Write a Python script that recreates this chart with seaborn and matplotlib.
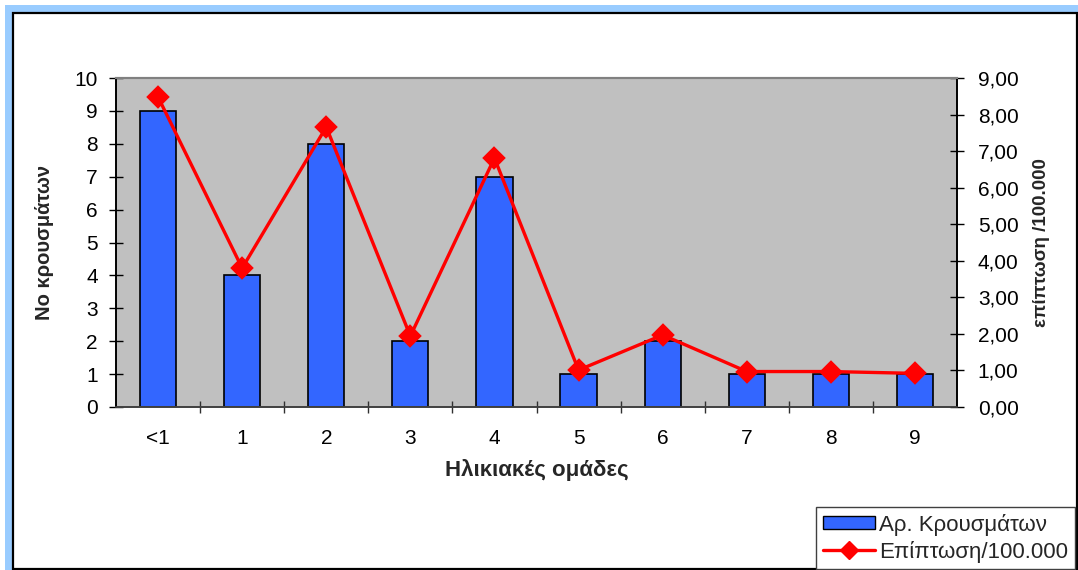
import numpy as np
import matplotlib
matplotlib.use("Agg")
import matplotlib.pyplot as plt
from matplotlib.patches import Rectangle, Patch
from matplotlib.lines import Line2D
from matplotlib.ticker import FixedLocator, FuncFormatter
import seaborn as sns

# Age groups, number of cases and incidence per 100,000
age_groups = ["<1", "1", "2", "3", "4", "5", "6", "7", "8", "9"]
cases = [9, 4, 8, 2, 7, 1, 2, 1, 1, 1]
incidence = [8.48, 3.80, 7.66, 1.94, 6.81, 1.01, 1.97, 0.97, 0.97, 0.92]

sns.set_theme(style="white")
plt.rcParams["font.family"] = ["Liberation Sans", "DejaVu Sans"]

W, H = 1078, 570
fig = plt.figure(figsize=(W / 100, H / 100), dpi=100, facecolor="white")


def fx(px):
    return px / W


def fy(py):
    return 1 - py / H


# light blue outer band and white framed panel behind the chart
fig.add_artist(Rectangle((fx(5), 0), 1 - fx(5), fy(5), transform=fig.transFigure,
                         facecolor="#99CCFF", edgecolor="none", zorder=-3))
fig.add_artist(Rectangle((fx(13), fy(569)), fx(1077) - fx(13), fy(13) - fy(569),
                         transform=fig.transFigure, facecolor="white",
                         edgecolor="black", linewidth=1.6, zorder=-2))

ax = fig.add_axes([fx(116), fy(407), fx(957) - fx(116), (407 - 78) / H])
ax.set_facecolor("#C0C0C0")

sns.barplot(x=age_groups, y=cases, ax=ax, color="#3366FF", saturation=1,
            width=0.43, edgecolor="black", linewidth=1.2)
ax.set_xlim(-0.5, 9.5)
ax.set_ylim(0, 10)
ax.set_yticks(range(0, 11))

ax2 = ax.twinx()
sns.pointplot(x=age_groups, y=incidence, ax=ax2, color="#FF0000", markers="D",
              markersize=10, linewidth=2.4, errorbar=None)
ax2.set_xlim(-0.5, 9.5)
ax2.set_ylim(0, 9)
ax2.set_yticks(range(0, 10))
ax2.yaxis.set_major_formatter(FuncFormatter(lambda v, _: f"{v:.2f}".replace(".", ",")))

# x ticks: labels centred on categories, tick marks between them
ax.set_xticks(range(len(age_groups)))
ax.set_xticklabels(age_groups)
ax.xaxis.set_minor_locator(FixedLocator(np.arange(0.5, 9.5, 1)))
ax.tick_params(axis="x", which="major", length=0, pad=16, labelsize=15, colors="black")
ax.tick_params(axis="x", which="minor", bottom=True, direction="inout", length=9,
               width=1, color="#303030")
ax.tick_params(axis="y", left=True, direction="inout", length=10, width=1,
               pad=8, labelsize=15, colors="black")
ax2.tick_params(axis="y", right=True, direction="inout", length=10, width=1,
                pad=10, labelsize=15, colors="black")

for a in (ax, ax2):
    a.spines["top"].set_color("#808080")
    a.spines["top"].set_linewidth(1.5)
    a.spines["bottom"].set_color("#404040")
    a.spines["bottom"].set_linewidth(1.2)
    a.spines["left"].set_color("black")
    a.spines["left"].set_linewidth(1.2)
    a.spines["right"].set_color("black")
    a.spines["right"].set_linewidth(1.2)
ax2.patch.set_visible(False)

ax.set_xlabel("Ηλικιακές ομάδες", fontsize=16, fontweight="bold")
ax.xaxis.set_label_coords(0.5, -0.19)
ax.xaxis.label.set_va("center")
ax.set_ylabel("Νο κρουσμάτων", fontsize=14.5, fontweight="bold")
ax.yaxis.set_label_coords((45 - 116) / 841, 0.5)
ax.yaxis.label.set_va("center")
ax2.set_ylabel("επίπτωση /100.000", fontsize=13.5, fontweight="bold", rotation=90)
ax2.yaxis.set_label_coords((1041 - 116) / 841, 0.5)
ax2.yaxis.label.set_va("center")
ax2.set_xlabel("")

handles = [
    Patch(facecolor="#3366FF", edgecolor="black", linewidth=1.0),
    Line2D([0], [0], color="#FF0000", marker="D", lw=2.4, ms=9),
]
leg = fig.legend(handles, ["Αρ. Κρουσμάτων", "Επίπτωση/100.000"],
                 loc="upper left", bbox_to_anchor=(fx(816), fy(507)),
                 frameon=True, fancybox=False, edgecolor="#404040", framealpha=1,
                 fontsize=16, handlelength=2.35, handleheight=0.5, handletextpad=0.2,
                 borderaxespad=0, borderpad=0.3, labelspacing=0.22)
leg.get_frame().set_linewidth(1.0)

fig.savefig("out.png", dpi=100, facecolor="white")
